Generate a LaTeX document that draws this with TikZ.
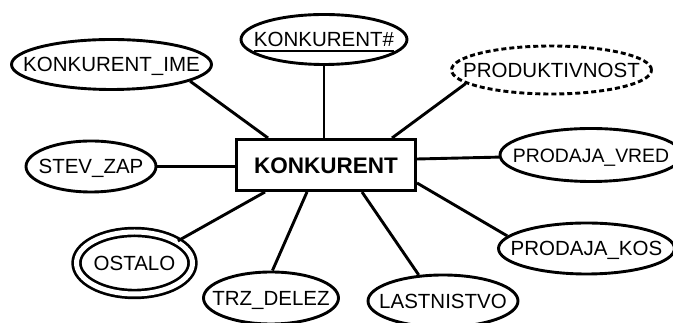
\documentclass[tikz,border=0pt]{standalone}
\usepackage{fontspec}
\setmainfont{Liberation Sans}
\usetikzlibrary{shapes.geometric,calc}
% underline for key attributes, with a rule of chosen thickness
\newcommand\keyattr[1]{\leavevmode\setbox0=\hbox{#1}\rlap{\vrule height -3.4pt depth 4.8pt width \wd0}\box0}
\begin{document}
\begin{tikzpicture}[x=1pt,y=1pt,
  attr/.style 2 args={draw, ellipse, line width=2.9pt, inner sep=0pt,
    minimum width=#1pt, minimum height=#2pt},
  derived/.style 2 args={attr={#1}{#2}, dash pattern=on 5pt off 3pt},
  multival/.style 2 args={attr={#1}{#2}, line width=2.7pt, double, double distance=5pt},
  every label/.style={inner sep=0pt, font=\fontsize{20.5}{24}\selectfont,
    text height=14.7pt, text depth=0pt},
  entity/.style={draw, rectangle, line width=3pt, inner sep=0pt,
    minimum width=179pt, minimum height=51pt,
    font=\bfseries\fontsize{22.5}{26}\selectfont, text height=16.2pt, text depth=0pt},
  link/.style={line width=2.9pt}]
\useasboundingbox (0,0) rectangle (673,323);

% entity
\node[entity] (box) at (326,158) {KONKURENT};

% attributes: ellipse outline with its name set on top
\node[attr={200}{50}, label=center:KONKURENT\_IME] (ime) at (111.5,258.5) {};
\node[attr={166}{50}, label=center:\keyattr{KONKURENT\#}] (key) at (324,283.5) {};
\node[derived={200}{48}, label=center:PRODUKTIVNOST] (prod) at (551.5,253) {};
\node[attr={182}{53}, label={[font=\fontsize{19.4}{23}\selectfont]center:PRODAJA\_VRED}] (vred) at (591,168) {};
\node[attr={176}{51}, label=center:PRODAJA\_KOS] (kos) at (586.5,74.5) {};
\node[attr={150}{52}, label=center:LASTNISTVO] (lastn) at (443,22) {};
\node[attr={135}{52}, label=center:TRZ\_DELEZ] (trz) at (271,25) {};
\node[multival={116}{62}, label=center:OSTALO] (ostalo) at (134.5,60) {};
\node[attr={130}{51}, label=center:STEV\_ZAP] (stev) at (91,156.5) {};

% connectors
\draw[link] (ime.-12) -- ($(box.north west)+(33,0)$);
\draw[link] (key) -- (key |- box.north);
\draw[link] (prod.189) -- ($(box.north east)+(-25,0)$);
\draw[link] (vred) -- ($(box.east)+(0,6)$);
\draw[link] (kos.171) -- ($(box.south east)+(0,9)$);
\draw[link] (lastn.133) -- ($(box.south west)+(127,0)$);
\draw[link] (trz.87) -- ($(box.south west)+(72,0)$);
\draw[link] (ostalo.27) -- ($(box.south west)+(30,0)$);
\draw[link] (stev) -- (stev -| box.west);
\end{tikzpicture}
\end{document}
